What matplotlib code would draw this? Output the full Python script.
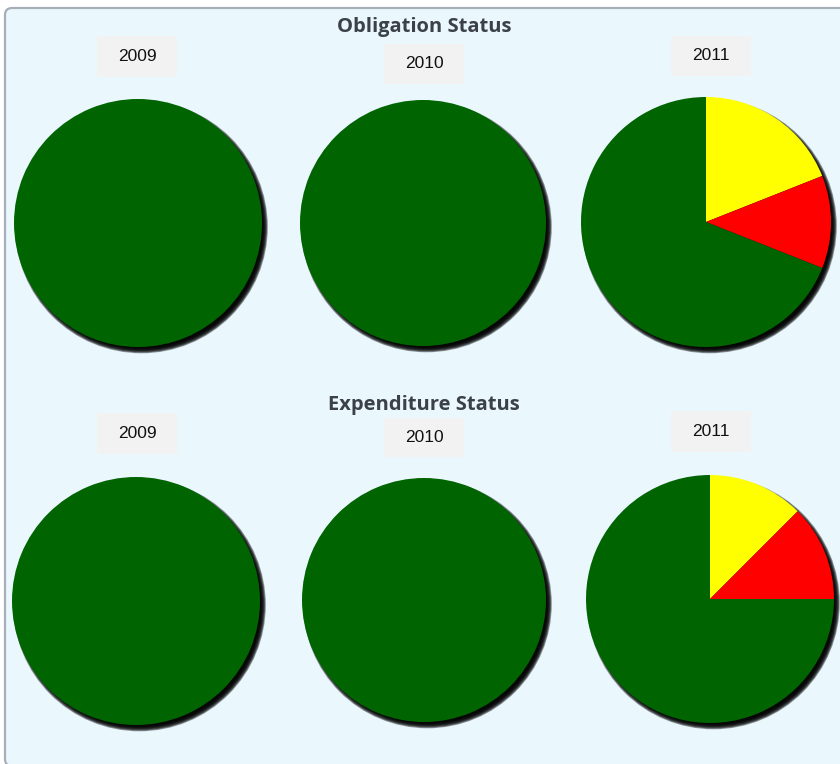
import matplotlib
matplotlib.use('Agg')
import matplotlib.pyplot as plt
from matplotlib.patches import Circle, Rectangle, FancyBboxPatch

# status shares per year (percent): yellow = at risk, red = behind, green = on track
years = ['2009', '2010', '2011']
obligation_yellow = [0, 0, 19]
obligation_red = [0, 0, 12]
obligation_green = [100, 100, 69]
expenditure_yellow = [0, 0, 12.5]
expenditure_red = [0, 0, 12.5]
expenditure_green = [100, 100, 75]

W, H = 840, 764
BG = '#eaf8fe'
GREEN = '#006400'
YELLOW = '#ffff00'
RED = '#ff0000'

fig = plt.figure(figsize=(W / 100, H / 100), dpi=100)
fig.patch.set_facecolor('white')
ax = fig.add_axes([0, 0, 1, 1])


def Y(y):
    # pixel rows counted from the top
    return H - y


# panel with rounded border
panel = FancyBboxPatch((5, Y(766)), 860, 758,
                       boxstyle='round,pad=0,rounding_size=7',
                       facecolor=BG, edgecolor='#a6afb7', linewidth=1.6, zorder=0)
ax.add_patch(panel)


def shadow(cx, cy, r):
    # soft drop shadow, stacked translucent discs
    for k in range(7):
        ax.add_patch(Circle((cx + 3.5, Y(cy) - 4), r - 2.5 + k * 0.8,
                            facecolor='black', edgecolor='none', alpha=0.4, zorder=1))


def year_box(x0, y0, x1, y1, label):
    ax.add_patch(Rectangle((x0, Y(y1)), x1 - x0, y1 - y0,
                           facecolor='#f2f2f2', edgecolor='none', zorder=2))
    ax.text((x0 + x1) / 2, Y((y0 + y1) / 2), label, ha='center', va='center',
            fontsize=12.5, family='Liberation Sans', color='#111111', zorder=3)


def status_pie(cx, cy, r, yellow, red, green):
    shadow(cx, cy, r)
    ax.pie([yellow, red, green], colors=[YELLOW, RED, GREEN],
           startangle=90, counterclock=False, radius=r, center=(cx, Y(cy)),
           wedgeprops=dict(linewidth=0, zorder=2))


sections = [
    ('Obligation Status', 27, obligation_yellow, obligation_red, obligation_green,
     [(138, 223, 124), (423, 223, 123), (706, 222, 125)],
     [(97, 36, 177, 77), (384, 44, 464, 84), (671, 36, 751, 76)]),
    ('Expenditure Status', 405, expenditure_yellow, expenditure_red, expenditure_green,
     [(136, 601, 124), (424, 600, 122), (710, 599, 124)],
     [(97, 413, 177, 454), (384, 418, 464, 457), (671, 411, 751, 452)]),
]

for title, ty, yel, red, grn, pies, boxes in sections:
    ax.text(424, Y(ty), title, ha='center', va='center', fontsize=14.5,
            family='Open Sans', weight='bold', color='#3b4147', zorder=3)
    for i, year in enumerate(years):
        cx, cy, r = pies[i]
        status_pie(cx, cy, r, yel[i], red[i], grn[i])
        year_box(*boxes[i], year)

ax.set_xlim(0, W)
ax.set_ylim(0, H)
ax.set_aspect('auto')
ax.axis('off')

fig.savefig('out.png', dpi=100, facecolor='white')
